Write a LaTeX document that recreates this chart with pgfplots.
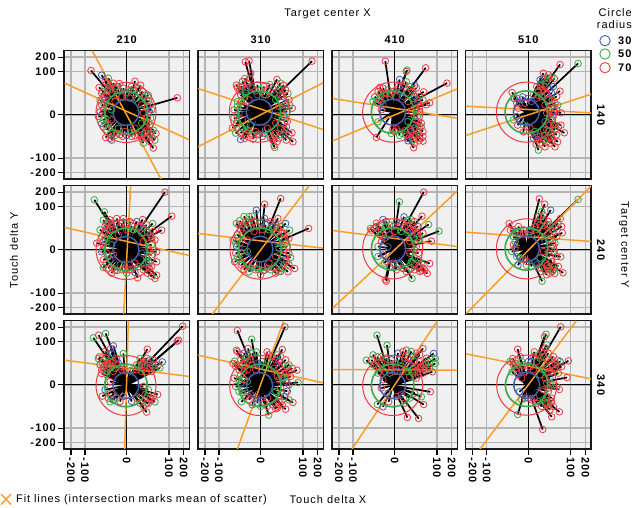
\documentclass[border=0pt]{standalone}
\usepackage{fontspec}
\setmainfont{Liberation Sans}
\newfontfamily\tickf[LetterSpace=9]{Liberation Sans}
\newfontfamily\labf[LetterSpace=9]{Liberation Sans}
\newfontfamily\legf[LetterSpace=8]{Liberation Sans}
\usepackage{pgfplots}
\usepackage{pgfplotstable}
\pgfplotsset{compat=1.18}
\definecolor{myred}{HTML}{EE3B43}
\definecolor{mygreen}{HTML}{3BAA48}
\definecolor{myblue}{HTML}{4460AE}
\definecolor{myor}{HTML}{FB9E25}
\definecolor{myg}{HTML}{B4B4B4}
\pgfplotstableread[row sep=\\]{a b c\\
-107 133 r\\152 51 r\\80 -100 r\\-75 119 b\\-83 82 r\\-50 87 g\\-65 100 r\\-55 110 g\\-40 95 r\\-22 94 r\\-30 85 g\\-10 80 r\\5 75 b\\25 101 r\\42 89 r\\35 80 g\\15 85 r\\55 59 b\\65 59 g\\60 45 r\\70 30 g\\48 70 r\\75 15 r\\65 5 b\\72 -10 g\\60 -20 r\\70 -30 r\\88 -56 r\\80 -46 g\\77 -69 r\\85 -76 g\\60 -70 r\\68 -80 r\\50 -85 g\\45 -60 r\\25 -63 r\\40 -50 b\\10 -55 g\\-5 -50 r\\-20 -60 r\\-32 -61 g\\-45 -76 b\\-50 -71 r\\-63 -68 r\\-40 -55 r\\-70 -36 g\\-75 -26 b\\-55 -30 r\\-60 -45 g\\-80 9 b\\-85 -5 r\\-65 -10 g\\-70 15 r\\-80 44 g\\-75 30 r\\-65 45 b\\-60 60 r\\-72 70 g\\-45 65 r\\-30 60 b\\-15 55 r\\10 50 r\\30 50 g\\45 30 r\\50 5 r\\45 -25 g\\25 -40 r\\-25 -40 g\\-45 -15 r\\-45 15 g\\-35 40 r\\-55 80 b\\-60 95 r\\70 -60 r\\55 -55 g\\62 -45 r\\
-75 65 r\\-68 55 r\\-58 72 g\\-50 75 r\\-35 78 r\\-20 72 g\\0 68 r\\12 72 g\\22 75 r\\40 62 r\\52 52 g\\66 42 r\\62 25 r\\68 10 b\\62 -8 r\\66 -22 g\\58 -38 r\\66 -48 r\\72 -55 g\\55 -68 r\\45 -72 r\\35 -60 r\\15 -65 r\\0 -62 b\\-12 -65 r\\-28 -55 r\\-48 -55 g\\-62 -30 r\\-70 -15 g\\-72 5 r\\-68 30 g\\-62 35 r\\
}\tabA
\pgfplotstableread[row sep=\\]{a b c\\
-46 159 r\\-35 162 r\\154 161 r\\-73 89 r\\-70 82 r\\49 106 r\\69 89 r\\42 -98 g\\40 -92 r\\94 -54 r\\97 -81 r\\77 -76 r\\-60 -74 b\\-48 -71 r\\-23 -73 r\\-73 -26 g\\77 -36 b\\87 29 g\\-48 109 g\\-33 109 r\\27 91 g\\82 64 g\\-55 100 r\\-30 125 r\\60 95 g\\75 75 r\\85 45 r\\95 20 r\\80 10 g\\60 60 r\\30 70 b\\10 85 r\\-10 90 g\\-25 80 r\\-45 75 b\\-60 60 r\\-70 40 g\\-80 15 r\\-65 5 b\\-80 -10 g\\-85 -40 r\\-75 -55 g\\-60 -55 r\\-40 -45 g\\-45 -60 r\\-10 -60 b\\5 -65 r\\25 -60 g\\35 -75 r\\55 -70 r\\70 -60 b\\85 -60 r\\60 -40 g\\80 -20 r\\70 0 b\\55 25 r\\45 45 g\\15 60 r\\-10 60 b\\-35 45 r\\-50 25 r\\-55 -15 r\\-30 -30 g\\20 -40 r\\45 -25 r\\50 -80 r\\-60 85 g\\-40 95 r\\10 60 g\\-15 -50 r\\
-65 72 r\\-55 85 r\\-45 65 g\\-30 85 b\\-15 72 r\\0 75 g\\20 75 r\\40 65 r\\55 75 g\\65 55 r\\75 35 b\\68 15 r\\72 -8 g\\62 -25 r\\72 -45 r\\58 -60 g\\45 -55 r\\30 -70 r\\12 -55 b\\-5 -58 r\\-25 -62 r\\-35 -50 r\\-55 -40 g\\-70 -20 r\\-72 0 r\\-70 25 g\\-58 40 r\\-48 52 g\\
}\tabB
\pgfplotstableread[row sep=\\]{a b c\\
-28 161 r\\37 134 g\\35 130 r\\93 141 r\\157 95 r\\15 106 b\\35 99 g\\105 36 r\\87 69 r\\-55 -68 r\\57 -99 r\\85 -79 r\\73 -78 r\\80 -36 g\\-45 82 r\\-60 54 r\\-10 -56 g\\-50 -21 g\\40 -71 b\\60 89 b\\-35 80 r\\-20 75 g\\-5 70 r\\10 85 r\\30 90 r\\50 75 g\\65 80 r\\75 55 r\\60 55 b\\85 45 g\\95 30 r\\65 20 r\\75 10 g\\60 -5 r\\70 -20 b\\80 -25 r\\60 -40 g\\85 -50 r\\65 -60 r\\50 -50 r\\55 -75 g\\60 -85 r\\35 -60 r\\20 -55 g\\0 -50 r\\45 -40 b\\40 -20 g\\50 10 r\\40 40 r\\25 55 b\\5 55 r\\-15 55 g\\-30 50 r\\-45 60 g\\-50 35 r\\-35 30 b\\-65 40 g\\-40 15 r\\-50 70 r\\-25 65 r\\75 -70 r\\70 35 r\\45 -65 r\\
-30 65 r\\-10 62 g\\5 75 r\\20 70 b\\35 65 r\\45 85 g\\55 70 r\\68 45 b\\75 25 r\\68 -5 g\\62 -15 r\\75 -35 r\\65 -45 g\\72 -55 r\\55 -62 r\\40 -78 b\\48 -45 r\\30 -48 r\\15 -62 g\\5 -42 r\\-5 -42 r\\-40 40 g\\-45 45 r\\-15 65 r\\55 50 g\\70 12 r\\85 -65 r\\
}\tabC
\pgfplotstableread[row sep=\\]{a b c\\
95 151 r\\149 154 g\\43 107 b\\70 114 g\\78 109 r\\95 71 r\\38 84 r\\-49 67 r\\-17 54 b\\-42 49 b\\108 -54 r\\90 -36 r\\98 -31 r\\80 -96 r\\50 -96 r\\30 -106 g\\23 -88 r\\88 -81 r\\-32 -31 r\\-15 -51 r\\98 6 r\\88 29 g\\60 120 r\\55 100 g\\75 85 b\\50 85 r\\30 70 g\\85 55 r\\70 65 b\\60 45 r\\70 25 g\\85 15 b\\75 0 r\\70 -15 g\\75 -30 r\\60 -30 r\\85 -60 r\\70 -55 g\\60 -70 r\\65 -85 r\\45 -75 g\\35 -85 r\\35 -65 r\\15 -70 b\\20 -50 g\\5 -40 r\\45 -45 r\\50 -20 b\\55 5 r\\50 30 r\\40 55 g\\25 50 r\\10 40 b\\-10 35 r\\-35 50 r\\-45 50 g\\-30 20 r\\-45 -15 g\\-25 -20 b\\-5 -35 r\\35 105 b\\45 125 r\\60 -50 g\\80 -45 r\\
25 85 r\\35 90 g\\45 75 r\\55 65 r\\65 75 b\\58 110 r\\48 110 g\\72 45 g\\80 35 r\\62 15 r\\78 10 b\\68 -8 r\\80 -30 g\\55 -45 r\\70 -68 r\\55 -82 r\\48 -62 g\\28 -75 r\\25 -62 b\\8 -58 r\\30 58 r\\15 60 g\\0 50 r\\-20 45 b\\-35 35 r\\-35 -5 r\\-15 -30 g\\72 -78 r\\
}\tabD
\pgfplotstableread[row sep=\\]{a b c\\
-97 150 g\\115 173 r\\135 101 r\\105 59 r\\78 79 g\\48 91 r\\33 -84 r\\85 -86 r\\90 -76 r\\-67 114 g\\-70 89 g\\-30 94 r\\-75 -6 b\\-70 -53 g\\-35 -61 r\\-10 94 r\\90 -6 r\\90 -36 r\\-80 60 g\\-75 40 g\\-50 90 r\\-60 80 r\\-60 65 b\\10 85 r\\30 85 b\\40 70 g\\60 75 r\\80 55 r\\70 45 b\\85 30 r\\75 15 g\\65 5 r\\75 -15 g\\60 -25 r\\75 -50 r\\70 -65 r\\55 -55 g\\60 -40 b\\35 -50 r\\15 -60 r\\0 -70 g\\-15 -60 r\\-45 -70 r\\-55 -55 r\\-70 -30 r\\-50 -30 b\\-60 -10 r\\-70 15 r\\-65 30 b\\-55 45 r\\-40 60 g\\-20 70 r\\0 60 r\\20 60 g\\45 50 r\\50 25 r\\45 -10 b\\25 -40 r\\-20 -45 g\\-40 -15 r\\-45 15 g\\-25 45 r\\-45 70 r\\-90 20 r\\75 -80 g\\
-55 80 g\\-45 80 r\\-65 55 r\\-50 60 r\\-30 80 b\\-15 80 r\\0 75 g\\15 72 r\\35 68 r\\50 65 b\\62 55 g\\75 35 r\\60 35 r\\70 -5 r\\65 -35 g\\68 -55 r\\62 -70 r\\50 -60 r\\25 -68 b\\8 -60 r\\-5 -58 r\\-28 -62 g\\-42 -55 r\\-62 -40 r\\-55 -20 g\\-72 0 r\\-70 25 r\\-58 35 g\\-65 70 r\\
}\tabE
\pgfplotstableread[row sep=\\]{a b c\\
-13 119 b\\12 137 r\\60 154 r\\144 64 r\\-63 87 g\\-26 101 g\\12 94 b\\52 94 r\\75 79 b\\87 59 g\\90 -23 g\\102 -56 r\\82 -66 r\\12 -61 b\\-35 -66 g\\-78 -36 r\\-58 -46 r\\-73 79 g\\-83 29 r\\-50 100 g\\-45 85 r\\-20 85 r\\0 80 g\\30 85 r\\45 75 b\\60 70 g\\70 50 r\\85 35 r\\75 20 g\\65 30 r\\70 0 r\\85 -10 r\\70 -30 b\\85 -45 r\\65 -55 g\\60 -65 r\\45 -70 r\\30 -60 g\\0 -75 r\\-15 -60 r\\-30 -55 b\\-50 -60 r\\-65 -30 g\\-50 -20 r\\-75 -10 r\\-65 5 b\\-75 20 g\\-70 45 r\\-60 60 r\\-40 65 b\\-20 55 r\\5 60 r\\25 60 g\\45 50 r\\50 25 b\\55 5 g\\45 -20 r\\25 -40 r\\-20 -40 r\\-40 -5 g\\-40 30 r\\-65 75 r\\-35 100 g\\70 -45 g\\
-55 75 r\\-40 80 g\\-30 65 r\\-10 70 r\\15 75 b\\35 70 g\\50 65 r\\65 50 r\\58 40 g\\72 30 r\\80 10 g\\68 -15 r\\78 -35 r\\55 -42 b\\55 -65 g\\40 -55 r\\20 -55 r\\8 -62 r\\-8 -58 g\\-35 -48 r\\-55 -40 r\\-70 -22 g\\-60 -8 r\\-72 10 b\\-62 20 r\\-68 38 g\\-55 50 r\\
}\tabF
\pgfplotstableread[row sep=\\]{a b c\\
87 173 r\\14 144 g\\28 99 b\\133 56 g\\110 26 r\\102 76 g\\82 101 r\\-35 91 b\\-73 64 g\\-70 59 r\\-25 -94 r\\-28 -90 r\\52 -86 g\\98 -71 r\\105 -41 r\\25 -56 b\\-20 9 b\\-55 80 r\\-45 70 g\\-60 65 r\\-25 85 r\\-15 75 g\\5 85 r\\20 80 r\\50 90 g\\60 85 r\\70 70 b\\55 60 r\\85 50 r\\75 30 g\\60 20 r\\55 35 g\\60 0 r\\70 -30 r\\80 -40 g\\85 -55 r\\90 -60 r\\70 -50 b\\50 -35 g\\60 -60 r\\35 -65 r\\15 -45 g\\5 -60 r\\-15 -50 b\\-30 -40 g\\-35 -15 r\\-50 10 g\\-40 25 r\\-35 50 b\\-15 45 r\\0 55 r\\20 55 g\\40 50 b\\45 25 r\\45 -10 r\\-50 -20 g\\40 70 r\\75 -65 r\\
-55 70 r\\-40 60 r\\-25 70 g\\-5 70 r\\10 72 b\\30 70 r\\40 90 g\\55 75 r\\68 50 r\\75 40 g\\65 10 r\\72 -10 r\\60 -25 g\\75 -50 r\\82 -62 r\\58 -45 r\\48 -55 g\\25 -55 r\\10 -40 b\\-5 -40 r\\-25 -35 r\\-30 35 g\\-45 45 r\\45 60 r\\55 45 b\\
}\tabG
\pgfplotstableread[row sep=\\]{a b c\\
33 153 r\\49 137 r\\67 119 b\\149 151 g\\96 94 r\\102 51 r\\-58 79 r\\-54 59 r\\97 -21 r\\104 -69 r\\79 -71 r\\41 -94 g\\-6 -46 g\\-31 -46 b\\59 -56 r\\89 79 r\\-30 70 r\\-40 55 g\\-15 60 r\\5 60 b\\20 70 r\\30 100 r\\40 115 g\\45 90 r\\60 85 r\\70 60 g\\80 70 b\\85 40 r\\65 30 r\\80 20 g\\70 5 r\\60 -10 r\\85 -20 r\\70 -35 g\\90 -50 r\\65 -60 r\\50 -40 r\\55 -75 r\\75 -60 g\\40 -55 r\\25 -45 b\\10 -50 g\\-15 -30 r\\-35 -20 g\\-50 -5 g\\-45 15 r\\-45 40 b\\-25 45 r\\0 45 r\\25 50 g\\45 55 r\\50 25 b\\45 -5 r\\35 -25 g\\65 -70 r\\100 70 r\\35 75 g\\
-45 60 r\\-30 55 b\\-15 50 r\\5 55 g\\20 60 r\\28 85 r\\38 100 g\\45 105 r\\55 75 r\\65 75 g\\75 55 r\\60 35 g\\72 15 r\\78 -5 g\\65 -20 r\\58 -45 r\\78 -48 r\\72 -65 r\\50 -62 g\\55 -48 r\\30 -55 r\\20 -38 b\\-5 -35 r\\-25 -25 g\\-40 5 r\\40 40 r\\-40 25 g\\
}\tabH
\pgfplotstableread[row sep=\\]{a b c\\
168 176 r\\156 134 r\\152 131 r\\62 107 r\\-100 141 g\\-84 149 r\\-63 154 g\\-40 117 b\\-48 109 r\\-10 94 g\\107 69 b\\100 51 g\\40 79 g\\-82 84 r\\-85 79 g\\60 -82 r\\93 -29 r\\85 -51 g\\65 -56 r\\-50 -51 g\\-73 -34 r\\-75 34 r\\-80 60 b\\-70 75 r\\-60 90 g\\-65 100 r\\-45 95 b\\-30 80 r\\-60 65 r\\-50 50 g\\-30 60 r\\-15 55 r\\50 70 r\\60 80 r\\70 75 g\\80 75 r\\85 60 b\\95 60 r\\70 50 r\\50 50 b\\75 40 r\\35 55 g\\20 45 r\\-75 45 r\\-60 30 g\\-50 10 r\\-65 -15 b\\-45 -25 r\\-30 -40 g\\-10 -35 r\\15 -50 b\\30 -40 r\\55 -30 r\\65 -15 g\\50 -5 r\\70 -40 r\\80 -35 r\\60 -55 r\\50 -65 g\\75 -45 r\\-40 -45 b\\-55 -40 r\\
-70 55 r\\-72 65 g\\-62 80 r\\-50 70 g\\-55 55 r\\-40 70 r\\-25 65 b\\-15 45 r\\-40 40 r\\30 60 r\\45 60 g\\55 60 r\\65 65 b\\78 60 r\\85 50 g\\60 40 r\\45 40 r\\30 45 r\\-60 50 g\\-50 60 r\\-35 50 g\\-5 42 r\\10 42 g\\-65 40 r\\40 -55 r\\-20 -50 r\\
}\tabI
\pgfplotstableread[row sep=\\]{a b c\\
-70 163 r\\73 174 r\\-27 137 g\\19 99 r\\65 106 r\\-73 104 g\\-70 100 r\\-38 109 r\\-13 99 g\\-78 71 g\\-83 64 r\\109 44 r\\112 7 g\\80 -19 b\\97 -53 r\\75 -73 r\\24 -91 g\\-58 -51 g\\-53 -16 b\\-13 -41 r\\-60 90 r\\-50 95 b\\-45 80 g\\-75 55 r\\-55 60 r\\-30 75 r\\-25 95 g\\0 60 b\\35 85 r\\50 90 g\\60 85 r\\75 75 r\\85 60 g\\95 50 r\\75 35 r\\90 25 r\\65 20 g\\75 10 b\\85 0 r\\60 -10 r\\70 -35 b\\55 -50 r\\65 -60 r\\85 -45 g\\50 -70 r\\35 -60 b\\20 -65 r\\0 -65 g\\-25 -60 r\\-45 -35 r\\-65 -20 g\\-75 -5 r\\-60 5 b\\-80 20 r\\-60 30 g\\-40 45 r\\-15 45 r\\15 50 g\\40 50 r\\50 25 r\\45 -20 g\\20 -40 r\\-30 -30 r\\-40 10 g\\
-60 75 r\\-50 70 g\\-40 70 r\\-25 60 r\\-10 65 b\\5 70 r\\20 75 g\\25 90 r\\45 75 r\\55 70 b\\65 60 r\\80 55 g\\85 40 r\\60 35 r\\70 20 g\\55 15 r\\60 -25 r\\55 -35 g\\45 -55 r\\45 -72 r\\10 -55 r\\-10 -55 b\\-35 -45 r\\-55 -25 g\\-50 15 r\\-65 15 g\\-65 45 r\\-50 40 r\\
}\tabJ
\pgfplotstableread[row sep=\\]{a b c\\
-53 149 g\\-23 119 g\\-85 74 g\\-52 84 r\\35 104 r\\85 109 r\\117 94 b\\122 79 g\\122 64 g\\113 39 r\\107 -21 r\\87 -59 r\\72 -101 r\\38 -98 r\\-52 -59 g\\-35 -66 b\\-18 -51 r\\80 -36 g\\-70 75 r\\-65 90 g\\-40 85 g\\-25 80 r\\-10 75 b\\10 95 b\\25 100 r\\50 100 g\\65 95 r\\75 90 r\\95 80 r\\100 70 g\\85 60 r\\105 50 g\\90 45 r\\70 40 b\\70 30 r\\-60 60 r\\-45 50 r\\-50 35 g\\-25 50 r\\-15 35 g\\0 40 r\\20 55 r\\40 60 b\\55 45 g\\45 25 r\\60 -25 r\\45 -40 g\\30 -55 r\\-20 -25 b\\-40 -10 r\\-35 15 r\\-30 40 g\\20 -30 r\\5 -35 r\\85 35 r\\
-55 55 r\\-65 60 g\\-40 65 r\\-30 70 g\\-10 60 r\\0 65 r\\15 75 g\\30 80 r\\40 80 r\\55 85 b\\60 70 g\\75 70 r\\80 55 r\\95 60 g\\60 55 r\\60 40 r\\85 50 r\\40 40 g\\25 40 r\\-45 40 r\\10 40 b\\-10 45 r\\100 55 r\\65 20 r\\75 50 r\\
}\tabK
\pgfplotstableread[row sep=\\]{a b c\\
97 174 r\\53 152 g\\48 144 r\\-32 107 r\\120 72 r\\116 22 r\\93 -14 r\\93 -81 r\\70 -96 r\\43 -134 r\\-32 -89 g\\-27 -21 b\\-47 79 r\\-49 39 g\\88 74 g\\18 99 r\\68 -51 g\\-55 70 g\\-40 65 r\\-25 85 r\\-20 70 g\\0 70 b\\15 85 r\\30 90 g\\40 100 r\\55 120 g\\60 95 r\\75 85 r\\95 70 b\\70 60 r\\100 55 r\\80 45 g\\90 35 r\\60 40 r\\45 45 r\\65 20 b\\55 5 r\\75 0 r\\85 -5 g\\60 -20 r\\70 -40 g\\55 -35 r\\65 -75 r\\75 -65 r\\50 -55 g\\40 -65 r\\30 -50 b\\10 -45 r\\-10 -40 r\\-20 -45 g\\-30 30 b\\-10 40 r\\15 45 r\\35 30 g\\45 -15 r\\-35 50 r\\
-45 60 r\\-30 60 g\\-35 40 r\\-15 60 r\\5 55 r\\10 70 b\\25 70 r\\35 80 g\\45 85 r\\50 110 r\\60 75 g\\70 75 r\\80 65 r\\90 55 r\\55 50 g\\70 40 r\\50 20 r\\65 5 g\\60 -10 r\\55 -55 r\\60 -65 r\\70 -50 r\\45 -45 g\\25 -55 r\\18 -40 r\\0 -40 b\\-20 20 r\\
}\tabL
\newcommand{\panel}[7]{%
\begin{axis}[at={(#1pt,#2pt)},anchor=south west,scale only axis,width=125.33pt,height=128.33pt,
 xmin=-188,xmax=188,ymin=-192.5,ymax=192.5,
 axis background/.style={fill=black!6},
 axis line style={draw=black!90,line width=1.2pt},
 grid=major,major grid style={myg,line width=1.4pt},
 xtick={-167,-125,0,127,171},ytick={-173,-130,0,130,173},
 tick style={black,line width=1.2pt},major tick length=6.5pt,
 tick align=outside,xtick pos=bottom,ytick pos=left,
 xticklabel style={rotate=-90,anchor=west,font=\fontsize{11}{11}\tickf\bfseries,inner sep=1.5pt},
 yticklabel style={font=\fontsize{11}{11}\tickf\bfseries,inner sep=1.5pt},
 #7]
\addplot[black,line width=1.1pt,forget plot] coordinates {(-188,0)(188,0)};
\addplot[black,line width=1.1pt,forget plot] coordinates {(0,-192.5)(0,192.5)};
\addplot[scatter,only marks,mark=o,mark size=3.3pt,line width=0.8pt,scatter src=explicit symbolic,
 scatter/classes={r={mark=o,draw=myred},g={mark=o,draw=mygreen},b={mark=o,draw=myblue}}]
 table[x=a,y=b,meta=c] {#3};
\addplot[black,line width=1.7pt,no markers,quiver={u=#4-(\thisrow{a}),v=#5-(\thisrow{b})}]
 table[x=a,y=b] {#3};
\addplot[only marks,mark=o,mark size=30pt,myred,line width=1pt] coordinates {(#4,#5)};
\addplot[only marks,mark=o,mark size=21.3pt,mygreen,line width=1.6pt] coordinates {(#4,#5)};
\addplot[only marks,mark=o,mark size=13pt,myblue,line width=1.5pt] coordinates {(#4,#5)};
#6
\end{axis}}
\newcommand{\fit}[4]{\addplot[myor,line width=1.5pt,no markers] coordinates {(#1,#2)(#3,#4)};}
\pgfplotsset{
 nox/.style={xticklabels=\empty,x tick style={draw=none}},
 noy/.style={yticklabels=\empty,y tick style={draw=none}},
 labx/.style={xticklabels={-\hspace{1.5pt}200,-\hspace{1.5pt}100,0,100,200}},
 laby/.style={yticklabels={-\hspace{1.5pt}200,-\hspace{1.5pt}100,0,100,200}}}
\begin{document}
\begin{tikzpicture}[x=1pt,y=1pt]
\path[use as bounding box] (0,0) rectangle (632,508);
\panel{64}{329}{\tabA}{-2}{7}{\fit{-103}{192}{103}{-193}\fit{-186}{95}{188}{-75}}{laby,nox}
\panel{198}{329}{\tabB}{-4}{8}{\fit{-188}{-96}{187}{96}\fit{-188}{79}{187}{-44}}{nox,noy}
\panel{332}{329}{\tabC}{-6}{8}{\fit{-186}{-78}{188}{78}\fit{-186}{49}{188}{-10}}{nox,noy}
\panel{465.7}{329}{\tabD}{-6}{8}{\fit{-188}{-62}{188}{62}\fit{-188}{26}{188}{6}}{nox,noy}
\panel{64}{194}{\tabE}{-2}{1}{\fit{12}{192}{-9}{-193}\fit{-186}{67}{188}{-17}}{laby,nox}
\panel{198}{194}{\tabF}{-2}{2}{\fit{145}{192}{-145}{-193}\fit{-188}{49}{187}{5}}{nox,noy}
\panel{332}{194}{\tabG}{-6}{3}{\fit{188}{177}{-186}{-175}\fit{-186}{58}{188}{10}}{nox,noy}
\panel{465.7}{194}{\tabH}{-6}{3}{\fit{189}{192}{-186}{-191}\fit{-186}{53}{189}{25}}{nox,noy}
\panel{64}{59}{\tabI}{-2}{-2}{\fit{5}{192}{-6}{-193}\fit{-186}{74}{188}{25}}{laby,labx}
\panel{198}{59}{\tabJ}{-3}{-2}{\fit{69}{192}{-70}{-193}\fit{-188}{89}{187}{6}}{labx,noy}
\panel{332}{59}{\tabK}{-6}{-2}{\fit{128}{192}{-128}{-193}\fit{-186}{46}{188}{44}}{labx,noy}
\panel{465.7}{59}{\tabL}{-5}{-1}{\fit{144}{192}{-145}{-193}\fit{-187}{93}{188}{18}}{labx,noy}
\tikzset{hd/.style={font=\fontsize{11}{11}\tickf\bfseries,inner sep=0pt},tx/.style={font=\fontsize{11}{11}\labf,inner sep=0pt}}
\node[hd] at (126.7,468) {210};
\node[hd] at (260.7,468) {310};
\node[hd] at (394.7,468) {410};
\node[hd] at (528.3,468) {510};
\node[hd,rotate=-90] at (601,393) {140};
\node[hd,rotate=-90] at (601,258) {240};
\node[hd,rotate=-90] at (601,123) {340};
\node[tx] at (327.5,494) {Target center X};
\node[tx,rotate=-90] at (624,263) {Target center Y};
\node[tx,rotate=90] at (14,258) {Touch delta Y};
\node[tx] at (328,8.5) {Touch delta X};
\node[tx,anchor=west,font=\fontsize{11}{11}\legf] at (16,8.5) {Fit lines (intersection marks mean of scatter)};
\node[tx,anchor=east] at (632,495) {Circle};
\node[tx,anchor=east] at (632,483) {radius};
\draw[myblue,line width=0.9pt] (605,467.3) circle[radius=5.2];
\draw[mygreen,line width=0.9pt] (605,454) circle[radius=5.2];
\draw[myred,line width=0.9pt] (605,440.3) circle[radius=5.2];
\node[hd,anchor=west] at (618,467.3) {30};
\node[hd,anchor=west] at (618,454) {50};
\node[hd,anchor=west] at (618,440.3) {70};
\draw[myor,line width=1.4pt] (1,3.5)--(11,14) (1,14)--(11,3.5);
\end{tikzpicture}
\end{document}
